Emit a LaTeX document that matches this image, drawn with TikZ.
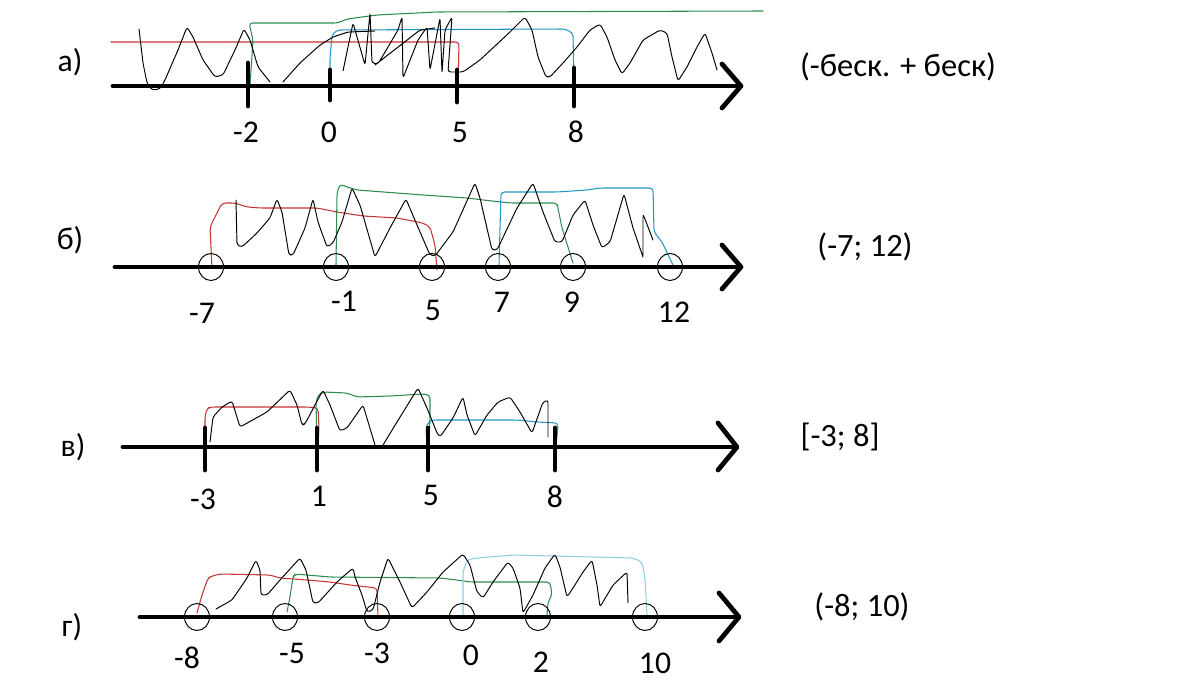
\documentclass[tikz,border=0pt]{standalone}
\usepackage{fontspec}
\setmainfont{Carlito}
\usetikzlibrary{shapes.geometric}
\definecolor{penred}{RGB}{196,52,52}
\definecolor{pengreen}{RGB}{44,140,80}
\definecolor{penblue}{RGB}{34,150,196}
\definecolor{penpale}{RGB}{140,208,222}

\begin{document}
\begin{tikzpicture}[x=0.02cm,y=-0.02cm,line join=round,line cap=round,
  axis/.style={line width=2.7pt},
  tickmark/.style={line width=2.8pt},
  hole/.style={draw,ellipse,inner sep=0pt,minimum width=0.5cm,minimum height=0.54cm,line width=0.55pt},
  hatch/.style={line width=0.55pt,rounded corners=1.5pt},
  pen/.style={line width=0.6pt,rounded corners=2pt},
  lab/.style={font=\fontsize{18}{20}\selectfont},
  ans/.style={font=\fontsize{18.5}{20}\selectfont}]
\useasboundingbox (0,0) rectangle (1196,692);

% --- a) ---
\node[lab] (rowa) at (70,62) {а)};
\node[ans] (ansa) at (898,67) {(-беск. + беск)};
\draw[pen,penred] (111,42) -- (459,42) -- (458,86);
\draw[pen,pengreen] (250,86) -- (253,40) -- (249,23) -- (338,23) -- (347,19) -- (377,15)
  -- (437,12) -- (763,11);
\draw[pen,penblue] (330,86) -- (330,58) -- (332,35) -- (337,30) -- (565,29) -- (573,33) -- (574,88);
\draw[hatch] (139,29) -- (143,63) -- (147,83) -- (152,90) -- (160,89) -- (165,80) -- (178,50)
  -- (187,27) -- (193,37) -- (203,60) -- (215,77) -- (223,75) -- (235,50) -- (244,29)
  -- (250,40) -- (258,67) -- (270,82)
  (283,82) -- (300,63) -- (320,45) -- (333,37) -- (348,32) -- (375,31)
  (343,71) -- (353,23) -- (365,65) -- (370,13) -- (372,63) -- (378,64) -- (398,30)
  -- (402,17) -- (403,78) -- (418,40) -- (427,27) -- (430,70) -- (440,18) -- (442,73)
  -- (445,30) -- (452,17) -- (448,72) -- (463,72) -- (480,60) -- (510,32) -- (525,17)
  -- (532,30) -- (538,57) -- (546,77) -- (550,77) -- (563,63) -- (577,47) -- (590,30)
  -- (600,24) -- (607,37) -- (615,60) -- (622,74) -- (630,63) -- (643,40) -- (660,30)
  -- (667,33) -- (672,57) -- (678,81) -- (687,67) -- (697,47) -- (705,33) -- (712,53) -- (717,70)
  (375,65) -- (420,30) -- (435,28);
\draw[axis] (113,86) -- (740,86);
\draw[axis] (722,64) -- (741,86) -- (722,108);
\foreach \x/\t/\b in {248/63/106, 330/70/100, 457/70/102, 574/68/106}
  \draw[tickmark] (\x,\t) -- (\x,\b);
\node[lab] (am2) at (246,132) {-2};
\node[lab] (a0) at (329,132) {0};
\node[lab] (a5) at (460,132) {5};
\node[lab] (a8) at (576,132) {8};

% --- b) ---
\node[lab] (rowb) at (70,240) {б)};
\node[ans] (ansb) at (865,247) {(-7; 12)};
\draw[pen,penred] (212,268) -- (210,227) -- (222,203) -- (235,203) -- (247,207) -- (260,208)
  -- (317,208) -- (337,212) -- (363,216) -- (397,218) -- (423,223) -- (430,227) -- (435,245) -- (437,270);
\draw[pen,pengreen] (336,265) -- (337,193) -- (340,184) -- (347,187) -- (357,190) -- (423,195)
  -- (467,198) -- (483,200) -- (510,203) -- (557,203) -- (558,208) -- (562,228) -- (573,263);
\draw[pen,penblue] (499,265) -- (501,192) -- (557,192) -- (587,190) -- (600,188) -- (653,188)
  -- (654,232) -- (662,242) -- (673,265);
\draw[hatch] (236,200) -- (237,245) -- (242,247) -- (257,233) -- (270,218) -- (277,199)
  -- (282,212) -- (289,255) -- (293,255) -- (305,228) -- (313,199) -- (318,222) -- (327,247)
  -- (333,243) -- (342,222) -- (352,188) -- (360,205) -- (375,257) -- (390,228) -- (406,199)
  -- (417,225) -- (430,255) -- (435,256) -- (453,232) -- (475,183) -- (480,198) -- (492,250)
  -- (497,250) -- (517,208) -- (533,183) -- (543,212) -- (555,242) -- (562,242) -- (573,215)
  -- (585,200) -- (593,225) -- (602,248) -- (610,242) -- (624,194) -- (633,228) -- (643,257)
  (643,257) -- (643,214) -- (653,240);
\draw[axis] (115,267) -- (740,267);
\draw[axis] (722,245) -- (741,267) -- (722,289);
\foreach \x [count=\i] in {211,336,432,498,573,670}
  \node[hole] (hb\i) at (\x,267) {};
\node[lab] (bm7) at (202,313) {-7};
\node[lab] (bm1) at (344,301) {-1};
\node[lab] (b5) at (433,310) {5};
\node[lab] (b7) at (502,302) {7};
\node[lab] (b9) at (572,302) {9};
\node[lab] (b12) at (674,312) {12};

% --- v) ---
\node[lab] (rowv) at (73,447) {в)};
\node[ans] (ansv) at (840,437) {[-3; 8]};
\draw[pen,penred] (205,442) -- (205,417) -- (207,408) -- (212,407) -- (308,407) -- (318,408)
  -- (319,428) -- (318,445);
\draw[pen,pengreen] (317,445) -- (316,402) -- (318,395) -- (323,392) -- (347,393) -- (357,397)
  -- (390,396) -- (423,394) -- (430,395) -- (430,415) -- (429,445);
\draw[pen,penblue] (427,445) -- (426,428) -- (428,422) -- (433,420) -- (517,420) -- (537,422)
  -- (558,423) -- (557,438) -- (555,446);
\draw[hatch] (210,442) -- (213,417) -- (222,407) -- (232,401) -- (240,427) -- (267,412)
  -- (290,390) -- (297,405) -- (302,425) -- (305,424) -- (315,405) -- (323,390) -- (330,405)
  -- (340,431) -- (347,428) -- (363,405) -- (375,445)
  (383,445) -- (397,422) -- (418,388) -- (427,408) -- (437,433) -- (440,437) -- (453,418)
  -- (463,397) -- (467,415) -- (475,436) -- (487,415) -- (498,402) -- (510,397) -- (520,412)
  -- (532,433) -- (543,402) -- (548,400) -- (548,437);
\draw[axis] (123,447) -- (736,447);
\draw[axis] (718,423) -- (737,447) -- (718,470);
\foreach \x in {205,317,428,555}
  \draw[tickmark] (\x,428) -- (\x,470);
\node[lab] (vm3) at (203,499) {-3};
\node[lab] (v1) at (319,496) {1};
\node[lab] (v5) at (431,495) {5};
\node[lab] (v8) at (555,497) {8};

% --- g) ---
\node[lab] (rowg) at (72,627) {г)};
\node[ans] (ansg) at (862,607) {(-8; 10)};
\draw[pen,penred] (197,613) -- (202,595) -- (208,578) -- (212,576) -- (220,574) -- (270,575)
  -- (280,578) -- (307,580) -- (330,582) -- (350,585) -- (377,588) -- (378,617);
\draw[pen,pengreen] (287,612) -- (290,597) -- (293,577) -- (295,574) -- (307,575) -- (330,577)
  -- (440,578) -- (457,580) -- (470,582) -- (550,582) -- (552,595) -- (548,602) -- (547,615);
\draw[pen,penpale] (463,615) -- (463,572) -- (467,560) -- (477,558) -- (513,555) -- (633,558)
  -- (642,562) -- (645,578) -- (647,615);
\draw[hatch] (216,609) -- (232,600) -- (247,578) -- (256,560) -- (260,570) -- (261,595)
  -- (267,595) -- (280,580) -- (300,558) -- (306,570) -- (312,598) -- (313,603) -- (318,603)
  -- (337,582) -- (353,568) -- (355,577) -- (362,595) -- (367,612) -- (373,610) -- (380,582)
  -- (388,558) -- (400,582) -- (412,608) -- (427,592) -- (443,572) -- (463,554) -- (470,565)
  -- (477,592) -- (483,598) -- (493,582) -- (508,562) -- (513,568) -- (520,588) -- (523,613)
  -- (533,595) -- (545,568) -- (555,554) -- (560,567) -- (567,597) -- (573,588) -- (583,572)
  -- (592,560) -- (597,585) -- (600,607) -- (613,585) -- (627,572) -- (628,603);
\draw[axis] (140,617) -- (738,617);
\draw[axis] (719,593) -- (739,617) -- (719,641);
\foreach \x [count=\i] in {197,285,377,462,538,645}
  \node[hole] (hg\i) at (\x,617) {};
\node[lab] (gm8) at (187,658) {-8};
\node[lab] (gm5) at (292,653) {-5};
\node[lab] (gm3) at (377,653) {-3};
\node[lab] (g0) at (471,655) {0};
\node[lab] (g2) at (541,662) {2};
\node[lab] (g10) at (655,663) {10};
\end{tikzpicture}
\end{document}
